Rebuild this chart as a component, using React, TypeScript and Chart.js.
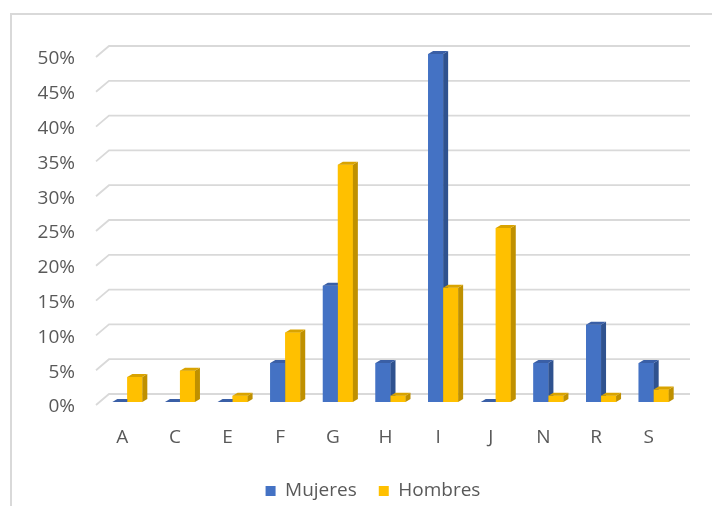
import React, { useEffect, useRef } from "react";
import { Chart, registerables } from "chart.js";

Chart.register(...registerables);

const categories = ["A", "C", "E", "F", "G", "H", "I", "J", "N", "R", "S"];
const mujeres = [0, 0, 0, 5.6, 16.7, 5.6, 50, 0, 5.6, 11.1, 5.6];
const hombres = [3.6, 4.5, 0.9, 10.0, 34.1, 0.9, 16.4, 25.0, 0.9, 0.9, 1.8];
const seriesNames = ["Mujeres", "Hombres"];
const frontColors = ["#4472C4", "#FFC000"];
const sideColors = ["#2F528F", "#BF9000"];
const topColors = ["#3A5FA6", "#D9A300"];
const yMax = 50;
const yStep = 5;

const DX = 5;
const DY = 3;

const framePlugin = {
  id: "frame",
  beforeDraw(chart: any) {
    const ctx = chart.ctx;
    ctx.save();
    ctx.strokeStyle = "#d9d9d9";
    ctx.lineWidth = 2;
    ctx.beginPath();
    ctx.moveTo(11, chart.height + 5);
    ctx.lineTo(11, 14);
    ctx.lineTo(chart.width + 5, 14);
    ctx.stroke();
    ctx.restore();
  },
};

const gridPlugin = {
  id: "grid3d",
  beforeDatasetsDraw(chart: any) {
    const ctx = chart.ctx;
    const ys = chart.scales.y;
    const { left, right } = chart.chartArea;
    ctx.save();
    ctx.strokeStyle = "#d9d9d9";
    ctx.lineWidth = 1.8;
    ys.ticks.forEach((t: any) => {
      const y = ys.getPixelForValue(t.value);
      ctx.beginPath();
      ctx.moveTo(left - 5, y + 3);
      ctx.lineTo(left + 8, y - 8);
      ctx.lineTo(right + 10, y - 8);
      ctx.stroke();
    });
    ctx.restore();
  },
};

const bar3dPlugin = {
  id: "bar3d",
  afterDatasetsDraw(chart: any) {
    const ctx = chart.ctx;
    chart.data.datasets.forEach((_ds: any, di: number) => {
      const meta = chart.getDatasetMeta(di);
      meta.data.forEach((el: any) => {
        const { x, y, base, width } = el.getProps(["x", "y", "base", "width"], true);
        const l = x - width / 2;
        const r = x + width / 2;
        el.draw(ctx);
        ctx.save();
        ctx.fillStyle = sideColors[di];
        ctx.beginPath();
        ctx.moveTo(r, y);
        ctx.lineTo(r + DX, y - DY);
        ctx.lineTo(r + DX, base - DY);
        ctx.lineTo(r, base);
        ctx.closePath();
        ctx.fill();
        ctx.fillStyle = topColors[di];
        ctx.beginPath();
        ctx.moveTo(l, y);
        ctx.lineTo(l + DX, y - DY);
        ctx.lineTo(r + DX, y - DY);
        ctx.lineTo(r, y);
        ctx.closePath();
        ctx.fill();
        ctx.restore();
      });
    });
  },
};

export default function App() {
  const ref = useRef<HTMLCanvasElement | null>(null);

  useEffect(() => {
    if (!ref.current) return;
    const font = { family: "'Open Sans', sans-serif", size: 19 };
    const chart = new Chart(ref.current, {
      type: "bar",
      data: {
        labels: categories,
        datasets: [
          {
            label: seriesNames[0],
            data: mujeres,
            backgroundColor: frontColors[0],
            borderWidth: 0,
            categoryPercentage: 0.57,
            barPercentage: 1,
          },
          {
            label: seriesNames[1],
            data: hombres,
            backgroundColor: frontColors[1],
            borderWidth: 0,
            categoryPercentage: 0.57,
            barPercentage: 1,
          },
        ],
      },
      options: {
        animation: false,
        responsive: false,
        devicePixelRatio: 1,
        layout: { padding: { left: 34, top: 54, right: 0, bottom: -4.5 } },
        plugins: {
          legend: {
            position: "bottom",
            labels: {
              boxWidth: 10,
              boxHeight: 10,
              padding: 22,
              color: "#595959",
              font,
            },
          },
          tooltip: { enabled: false },
        },
        scales: {
          x: {
            grid: { display: false, drawTicks: false },
            border: { display: false },
            ticks: { color: "#595959", font, padding: 24, labelOffset: -5 },
            afterFit: (s: any) => {
              s.height = 57.5;
            },
          },
          y: {
            min: 0,
            max: yMax,
            grid: { display: false, drawTicks: false },
            border: { display: false },
            ticks: {
              stepSize: yStep,
              color: "#595959",
              font,
              padding: 26,
              labelOffset: 5,
              callback: (v: any) => v + "%",
            },
            afterFit: (s: any) => {
              s.width = 67;
            },
          },
          y2: {
            position: "right",
            display: true,
            min: 0,
            max: yMax,
            grid: { display: false, drawTicks: false },
            border: { display: false },
            ticks: { display: false },
            afterFit: (s: any) => {
              s.width = 32;
            },
          },
        },
      },
      plugins: [framePlugin, gridPlugin, bar3dPlugin],
    });
    return () => chart.destroy();
  }, []);

  return (
    <div style={{ position: "fixed", left: 0, top: 0, width: 712, height: 506, background: "#fff" }}>
      <canvas ref={ref} width={712} height={506} style={{ display: "block" }} />
    </div>
  );
}
